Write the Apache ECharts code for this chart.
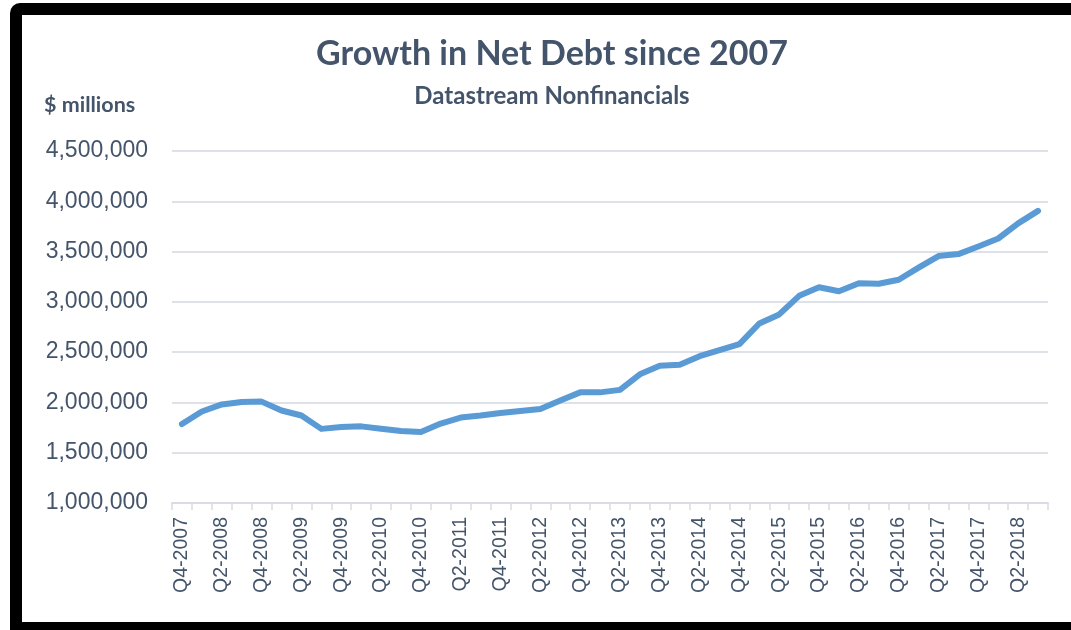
<!DOCTYPE html>
<html>
<head>
<meta charset="utf-8">
<script src="https://cdn.jsdelivr.net/npm/echarts@6/dist/echarts.min.js"></script>
<style>
html,body{margin:0;padding:0;background:#fff;}
#chart{width:1071px;height:630px;}
</style>
</head>
<body>
<div id="chart"></div>
<script>
const categories = ["Q4-2007","Q1-2008","Q2-2008","Q3-2008","Q4-2008","Q1-2009","Q2-2009","Q3-2009","Q4-2009","Q1-2010","Q2-2010","Q3-2010","Q4-2010","Q1-2011","Q2-2011","Q3-2011","Q4-2011","Q1-2012","Q2-2012","Q3-2012","Q4-2012","Q1-2013","Q2-2013","Q3-2013","Q4-2013","Q1-2014","Q2-2014","Q3-2014","Q4-2014","Q1-2015","Q2-2015","Q3-2015","Q4-2015","Q1-2016","Q2-2016","Q3-2016","Q4-2016","Q1-2017","Q2-2017","Q3-2017","Q4-2017","Q1-2018","Q2-2018","Q3-2018"];
const netDebt = [1785000,1910000,1980000,2005000,2008000,1920000,1870000,1737000,1755000,1762000,1738000,1715000,1705000,1790000,1850000,1870000,1895000,1915000,1935000,2020000,2100000,2100000,2125000,2280000,2365000,2375000,2460000,2520000,2580000,2785000,2875000,3060000,3145000,3105000,3185000,3180000,3220000,3340000,3455000,3475000,3550000,3630000,3780000,3905000];
const yMin = 1000000, yMax = 4500000, yStep = 500000;
const titleText = "Growth in Net Debt since 2007";
const subtitleText = "Datastream Nonfinancials";
const unitText = "$ millions";

const textColor = "#44546A";
const chart = echarts.init(document.getElementById('chart'), null, {renderer:'canvas'});
chart.setOption({
  animation:false,
  backgroundColor:'#fff',
  graphic:[
    {type:'rect', z:-10, silent:true, shape:{x:10,y:3,width:1100,height:627,r:[10,0,0,0]}, style:{fill:'#000'}},
    {type:'rect', z:-9, silent:true, shape:{x:22,y:15,width:1100,height:607}, style:{fill:'#fff'}}
  ],
  title:[
    {text:titleText, left:547, top:32, textAlign:'center',
     textStyle:{fontFamily:'Lato', fontWeight:'bold', fontSize:34, color:textColor}},
    {text:subtitleText, left:547, top:79, textAlign:'center',
     textStyle:{fontFamily:'Lato', fontWeight:'bold', fontSize:24, color:textColor}},
    {text:unitText, left:39, top:89,
     textStyle:{fontFamily:'Lato', fontWeight:'bold', fontSize:21.5, color:textColor}}
  ],
  grid:{left:172, right:23, top:151, bottom:127, containLabel:false},
  xAxis:{
    type:'category', data:categories, boundaryGap:true,
    axisLine:{lineStyle:{color:'#D9DCE2', width:2}},
    axisTick:{show:true, interval:0, length:7, lineStyle:{color:'#D9DCE2', width:1.5}},
    axisLabel:{interval:1, rotate:90, margin:14, fontFamily:'Liberation Sans', fontSize:19.5, color:textColor}
  },
  yAxis:{
    type:'value', min:yMin, max:yMax, interval:yStep,
    axisLine:{show:false}, axisTick:{show:false},
    splitLine:{lineStyle:{color:'#DEE1E7', width:2}},
    axisLabel:{margin:24, fontFamily:'Liberation Sans', fontSize:23, color:textColor,
      formatter:v=>v.toLocaleString('en-US')}
  },
  series:[{
    type:'line', data:netDebt, showSymbol:false, symbol:'none',
    lineStyle:{color:'#5B9BD5', width:6, cap:'round', join:'round'}
  }]
});
</script>
</body>
</html>
